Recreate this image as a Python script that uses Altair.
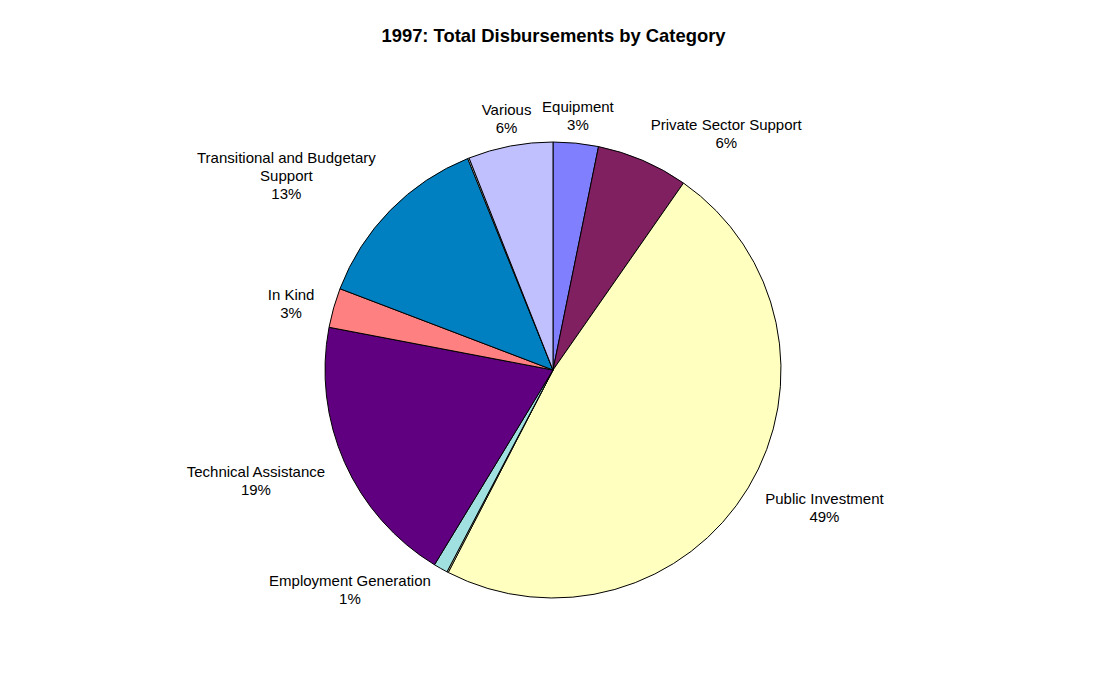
import altair as alt
import pandas as pd

categories = ["Equipment", "Private Sector Support", "Public Investment", "sliver_a",
              "Employment Generation", "Technical Assistance", "In Kind",
              "Transitional and Budgetary Support", "sliver_b", "Various"]
values = [3.2, 6.5, 47.9, 0.1, 1.0, 19.3, 2.8, 13.1, 0.1, 6.0]
label_texts = ["Equipment\n3%", "Private Sector Support\n6%", "Public Investment\n49%", "",
               "Employment Generation\n1%", "Technical Assistance\n19%", "In Kind\n3%",
               "Transitional and Budgetary\nSupport\n13%", "", "Various\n6%"]
colors = ["#8080FF", "#802060", "#FFFFC0", "#FFFFC0", "#A0E0E0", "#600080",
          "#FF8080", "#0080C0", "#FFFFFF", "#C0C0FF"]

FONT = "Liberation Sans"
FS = 15
LINE_H = 18
R = 228
RX_LABEL, RY_LABEL = 248, 235
CX, CY = 545, 321

# approximate Arial advance widths (1/1000 em) used to size label boxes
_W = {" ": 278, "a": 556, "b": 556, "c": 500, "d": 556, "e": 556, "g": 556, "h": 556,
      "i": 222, "k": 500, "l": 222, "m": 833, "n": 556, "o": 556, "p": 556, "r": 333,
      "s": 500, "t": 278, "u": 556, "v": 500, "y": 500, "A": 667, "B": 667, "E": 667,
      "G": 778, "I": 278, "K": 667, "P": 667, "S": 667, "T": 611, "V": 667, "%": 889}


def text_w(s):
    return max(sum(_W.get(ch, 556) for ch in line) for line in s.split("\n")) * FS / 1000.0


df = pd.DataFrame({
    "category": categories,
    "value": values,
    "order": list(range(len(categories))),
    "label": label_texts,
})
df["bw"] = df["label"].apply(text_w)
df["nl"] = df["label"].apply(lambda s: len(s.split("\n")))

base = alt.Chart(df)

arcs = base.mark_arc(stroke="black", strokeWidth=1, outerRadius=R).encode(
    theta=alt.Theta("value:Q", stack=True),
    order=alt.Order("order:Q"),
    color=alt.Color("category:N", scale=alt.Scale(domain=categories, range=colors), legend=None),
    x=alt.value(CX),
    y=alt.value(CY),
)

labels = base.transform_joinaggregate(
    total="sum(value)"
).transform_window(
    cum="sum(value)", sort=[alt.SortField("order")], frame=[None, 0]
).transform_calculate(
    mid="2*PI*(datum.cum - datum.value/2)/datum.total"
).transform_calculate(
    sh="abs(sin(datum.mid)) < 0.3 ? 0 : (sin(datum.mid) > 0 ? 1 : -1)",
    sv="abs(cos(datum.mid)) < 0.3 ? 0 : (cos(datum.mid) > 0 ? 1 : -1)",
).transform_calculate(
    lx=f"{CX} + {RX_LABEL}*sin(datum.mid) + datum.sh*datum.bw/2",
    ly=f"{CY} - {RY_LABEL}*cos(datum.mid) - datum.sv*datum.nl*{LINE_H}/2 - (datum.nl-1)*{LINE_H}/2",
).transform_filter(
    "datum.label != ''"
).mark_text(
    font=FONT, fontSize=FS, lineBreak="\n", lineHeight=LINE_H, color="black",
    align="center", baseline="middle", dy=-2,
).encode(
    x=alt.X("lx:Q", scale=None),
    y=alt.Y("ly:Q", scale=None),
    text="label:N",
)

chart = alt.layer(arcs, labels).properties(
    width=1091,
    height=665,
    autosize=alt.AutoSizeParams(type="fit", contains="padding"),
    padding={"top": 18, "left": 0, "right": 0, "bottom": 0},
    title=alt.Title("1997: Total Disbursements by Category", font=FONT, fontSize=18.4,
                    fontWeight="bold", color="black", anchor="middle"),
).configure_view(stroke=None)

chart.save("out.html", embed_options={"renderer": "svg", "actions": False})
